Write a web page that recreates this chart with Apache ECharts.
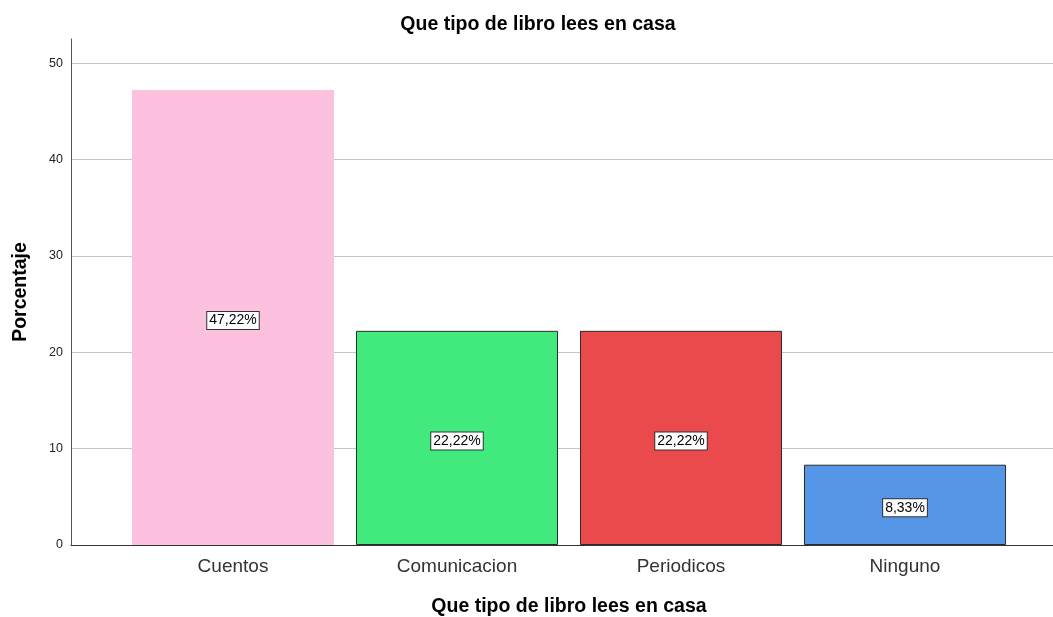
<!DOCTYPE html>
<html><head><meta charset="utf-8">
<script src="https://cdn.jsdelivr.net/npm/echarts@6/dist/echarts.min.js"></script>
<style>html,body{margin:0;padding:0;background:#fff}#c{width:1053px;height:617px}</style>
</head><body><div id="c"></div>
<script>
const categories = ['Cuentos', 'Comunicacion', 'Periodicos', 'Ninguno'];
const values = [47.22, 22.22, 22.22, 8.33];
const colors = ['#FDC1E0', '#42EA7D', '#EA4A4B', '#5596E6'];
const borders = ['#FDC1E0', '#2b2b2b', '#2b2b2b', '#2b2b2b'];
const yTicks = [0, 10, 20, 30, 40, 50];
const FONT = '"Liberation Sans", Arial, sans-serif';

const chart = echarts.init(document.getElementById('c'));
chart.setOption({
  animation: false,
  title: {
    text: 'Que tipo de libro lees en casa',
    left: 533, top: 10, textAlign: 'center',
    textStyle: { fontFamily: FONT, fontSize: 19.5, fontWeight: 'bold', color: '#000' }
  },
  grid: [
    { left: 71, right: 0, top: 39, bottom: 72, outerBoundsMode: 'none', containLabel: false },
    { left: 121, right: 36, top: 39, bottom: 72, outerBoundsMode: 'none', containLabel: false }
  ],
  xAxis: [
    { gridIndex: 0, type: 'category', data: categories, show: true,
      axisLine: { lineStyle: { color: '#333', width: 1 } },
      axisTick: { show: false }, axisLabel: { show: false } },
    { gridIndex: 1, type: 'category', data: categories,
      axisLine: { show: false }, axisTick: { show: false },
      axisLabel: { fontFamily: FONT, fontSize: 19, color: '#333', margin: 12 },
      name: 'Que tipo de libro lees en casa', nameLocation: 'middle', nameGap: 52,
      nameTextStyle: { fontFamily: FONT, fontSize: 19.5, fontWeight: 'bold', color: '#000' } }
  ],
  yAxis: [
    { gridIndex: 0, type: 'value', min: 0, max: 52.5, interval: 10,
      axisLine: { show: true, lineStyle: { color: '#555', width: 1 } },
      axisTick: { show: false },
      axisLabel: { fontFamily: FONT, fontSize: 12.5, color: '#222', margin: 8, showMaxLabel: false,
        padding: [4, 0, 0, 0],
        formatter: v => yTicks.includes(v) ? String(v) : '' },
      splitLine: { show: true, showMaxLine: false, lineStyle: { color: '#c8c8c8', width: 1 } },
      name: 'Porcentaje', nameLocation: 'middle', nameGap: 40, nameRotate: 90,
      nameTextStyle: { fontFamily: FONT, fontSize: 19.5, fontWeight: 'bold', color: '#000' } },
    { gridIndex: 1, type: 'value', min: 0, max: 52.5, show: false, splitLine: { show: false } }
  ],
  series: [{
    type: 'bar', xAxisIndex: 1, yAxisIndex: 1,
    barCategoryGap: '9.8%',
    data: values.map((v, i) => ({
      value: v,
      itemStyle: { color: colors[i], borderColor: borders[i], borderWidth: 1 }
    })),
    label: {
      show: true, position: 'inside', offset: [0, 3],
      formatter: p => p.value.toFixed(2).replace('.', ',') + '%',
      fontFamily: FONT, fontSize: 14, color: '#000',
      backgroundColor: '#fff', borderColor: '#333', borderWidth: 1, padding: [2, 2, 1, 2]
    }
  }]
});
</script></body></html>
